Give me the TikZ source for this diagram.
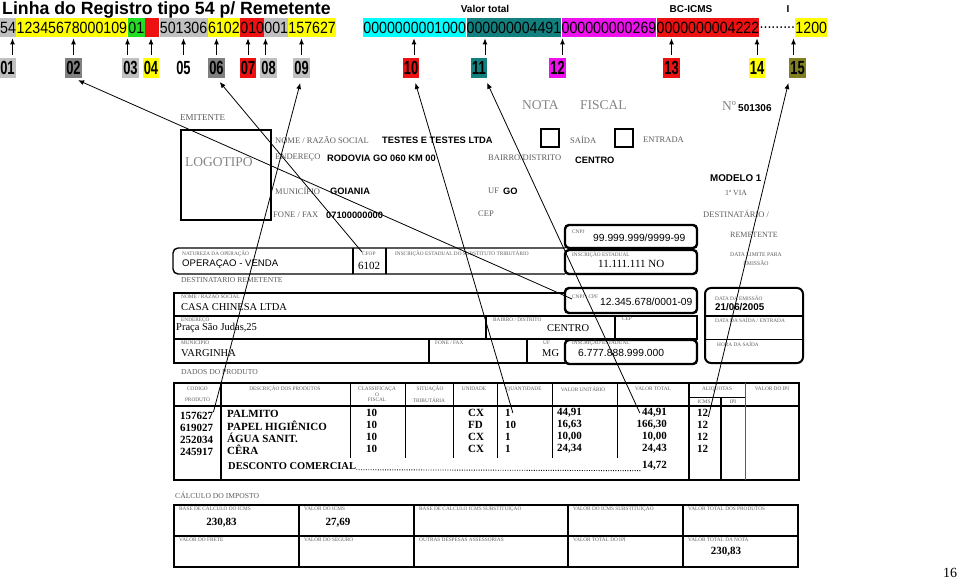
\documentclass[tikz,border=0pt]{standalone}
\usepackage{fontspec}
\setmainfont{Liberation Serif}
\newfontfamily\arialfont{Liberation Sans}
\newfontfamily\recfont[FakeStretch=0.87]{Liberation Sans}
\newfontfamily\tagfont[FakeStretch=0.68]{Liberation Sans}
\usetikzlibrary{arrows.meta,positioning}
\definecolor{SegGray}{HTML}{C0C0C0}
\definecolor{SegDark}{HTML}{808080}
\definecolor{SegYellow}{HTML}{FFFF00}
\definecolor{SegGreen}{HTML}{22DD22}
\definecolor{SegRed}{HTML}{EE1111}
\definecolor{SegCyan}{HTML}{00FFFF}
\definecolor{SegTeal}{HTML}{138080}
\definecolor{SegMagenta}{HTML}{EE11EE}
\definecolor{SegOlive}{HTML}{808022}
\definecolor{FormGray}{HTML}{5C5C5C}
\definecolor{FormLight}{HTML}{858585}
\tikzset{
  recseg/.style={inner sep=0pt, minimum height=19pt, font=\recfont\fontsize{16.3}{17}\selectfont},
  numtag/.style={inner xsep=1pt, inner ysep=0pt, minimum height=20pt,
    font=\tagfont\bfseries\fontsize{19}{20}\selectfont},
  fieldhint/.style={inner sep=0pt, font=\arialfont\bfseries\fontsize{10}{11}\selectfont},
  pick/.style={-{Latex[length=6pt,width=5pt]}, line width=0.9pt, shorten <=3pt, shorten >=1pt},
  callout/.style={-{Latex[length=6pt,width=5pt]}, line width=0.8pt, shorten >=5pt},
  formline/.style={line width=1.8pt},
  thinline/.style={line width=1pt},
  roundbox/.style={line width=2.4pt, rounded corners=4pt},
  tinylbl/.style={inner sep=0pt, anchor=west, text=FormGray, font=\fontsize{5.3}{6}\selectfont},
  tinyc/.style={inner sep=0pt, text=FormGray, font=\fontsize{5.3}{6}\selectfont},
  hdrlbl/.style={inner sep=0pt, anchor=west, text=FormGray, font=\fontsize{8.5}{9}\selectfont},
  titlelbl/.style={inner sep=0pt, anchor=west, text=FormLight, font=\fontsize{13.5}{14}\selectfont},
  hdrval/.style={inner sep=0pt, anchor=west, font=\arialfont\bfseries\fontsize{9.3}{10}\selectfont},
  sansval/.style={inner sep=0pt, anchor=west, font=\arialfont\fontsize{10.3}{11}\selectfont},
  serifval/.style={inner sep=0pt, anchor=west, font=\fontsize{10.5}{11}\selectfont},
  prodval/.style={inner sep=0pt, anchor=west, font=\bfseries\fontsize{11}{12}\selectfont},
  prodnum/.style={inner sep=0pt, anchor=east, font=\bfseries\fontsize{11}{12}\selectfont},
}

\begin{document}
\begin{tikzpicture}[x=1pt, y=-1pt]
  \useasboundingbox (0,0) rectangle (959,580);

  % record line and the numbered fields
  \node[anchor=base west, inner sep=0pt, font=\arialfont\bfseries\fontsize{17.7}{18}\selectfont]
    (title) at (2,15) {Linha do Registro tipo 54 p/ Remetente};
  \node[fieldhint] (hintTotal) at (485,9) {Valor total};
  \node[fieldhint] (hintBase) at (691,9) {BC-ICMS};
  \node[fieldhint] (hintAliq) at (788,9) {I};

  \node[recseg, fill=SegGray, minimum width=15pt, anchor=north west] (r01) at (0,18) {54};
  \node[recseg, fill=SegYellow, minimum width=111pt, right=0pt of r01] (r02) {12345678000109};
  \node[recseg, fill=SegGreen, minimum width=17pt, right=0pt of r02] (r03) {01};
  \node[recseg, fill=SegRed, minimum width=14pt, right=0pt of r03] (r04) {};
  \node[recseg, fill=SegGray, minimum width=48pt, right=0pt of r04] (r05) {501306};
  \node[recseg, fill=SegYellow, minimum width=32pt, right=0pt of r05] (r06) {6102};
  \node[recseg, fill=SegRed, minimum width=23pt, right=0pt of r06] (r07) {010};
  \node[recseg, fill=SegGray, minimum width=23pt, right=0pt of r07] (r08) {001};
  \node[recseg, fill=SegYellow, minimum width=47pt, right=0pt of r08] (r09) {157627};
  \node[recseg, fill=SegCyan, minimum width=103pt, right=27pt of r09] (r10) {0000000001000};
  \node[recseg, fill=SegTeal, minimum width=94pt, right=0pt of r10] (r11) {000000004491};
  \node[recseg, fill=SegMagenta, minimum width=94pt, right=0pt of r11] (r12) {000000000269};
  \node[recseg, fill=SegRed, minimum width=102pt, right=0pt of r12] (r13) {0000000004222};
  \node[recseg, minimum width=35pt, right=0pt of r13] (r14) {.........};
  \node[recseg, fill=SegYellow, minimum width=31pt, right=0pt of r14] (r15) {1200};

  \node[numtag, fill=SegGray] (n01) at (7.5,68) {01};
  \node[numtag, fill=SegDark] (n02) at (73.5,68) {02};
  \node[numtag, fill=SegGray] (n03) at (130.5,68) {03};
  \node[numtag, fill=SegYellow] (n04) at (151,68) {04};
  \node[numtag] (n05) at (183.5,68) {05};
  \node[numtag, fill=SegDark] (n06) at (216.5,68) {06};
  \node[numtag, fill=SegRed] (n07) at (248,68) {07};
  \node[numtag, fill=SegGray] (n08) at (268.5,68) {08};
  \node[numtag, fill=SegGray] (n09) at (301.5,68) {09};
  \node[numtag, fill=SegRed] (n10) at (411,68) {10};
  \node[numtag, fill=SegTeal] (n11) at (479,68) {11};
  \node[numtag, fill=SegMagenta] (n12) at (557.5,68) {12};
  \node[numtag, fill=SegRed] (n13) at (671.5,68) {13};
  \node[numtag, fill=SegYellow] (n14) at (757,68) {14};
  \node[numtag, fill=SegOlive] (n15) at (797.5,68) {15};

  \draw[pick] ([xshift=5pt]n01.north) -- ([xshift=5pt]n01.north |- r01.south);
  \draw[pick] (n02.north) -- (n02.north |- r02.south);
  \draw[pick] ([xshift=-3pt]n03.north) -- ([xshift=-3pt]n03.north |- r03.south);
  \draw[pick] (n04.north) -- (n04.north |- r04.south);
  \draw[pick] (n05.north) -- (n05.north |- r05.south);
  \draw[pick] (n06.north) -- (n06.north |- r06.south);
  \draw[pick] (n07.north) -- (n07.north |- r07.south);
  \draw[pick] ([xshift=-3pt]n08.north) -- ([xshift=-3pt]n08.north |- r08.south);
  \draw[pick] (n09.north) -- (n09.north |- r09.south);
  \draw[pick] ([xshift=3pt]n10.north) -- ([xshift=3pt]n10.north |- r10.south);
  \draw[pick] ([xshift=6pt]n11.north) -- ([xshift=6pt]n11.north |- r11.south);
  \draw[pick] ([xshift=5pt]n12.north) -- ([xshift=5pt]n12.north |- r12.south);
  \draw[pick] (n13.north) -- (n13.north |- r13.south);
  \draw[pick] (n14.north) -- (n14.north |- r14.south);
  \draw[pick] ([xshift=-4pt]n15.north) -- ([xshift=-4pt]n15.north |- r15.south);

  % emitente
  \node[hdrlbl, font=\fontsize{9}{10}\selectfont] (emitLbl) at (180,118) {EMITENTE};
  \draw[line width=2.6pt] (181,130) rectangle (271,220);
  \node[titlelbl] (logo) at (185,162) {LOGOTIPO};
  \node[titlelbl] (notaLbl) at (522,105) {NOTA};
  \node[titlelbl] (fiscalLbl) at (580,105) {FISCAL};
  \node[titlelbl] (numLbl) at (722,106) {Nº};
  \node[hdrval, font=\arialfont\bfseries\fontsize{10}{11}\selectfont] (numVal) at (738,108) {501306};

  \node[hdrlbl] (nomeLbl) at (275,140) {NOME / RAZÃO SOCIAL};
  \node[hdrval] (nomeVal) at (382,140) {TESTES E TESTES LTDA};
  \node[hdrlbl] (endLbl) at (275,158) {ENDEREÇO};
  \node[hdrval] (endVal) at (327,158) {RODOVIA GO 060 KM 00};
  \node[hdrlbl] (bairroLbl) at (488,158) {BAIRRO/DISTRITO};
  \node[hdrval] (bairroVal) at (575,160) {CENTRO};
  \node[hdrlbl] (munLbl) at (275,191) {MUNICÍPIO};
  \node[hdrval] (munVal) at (330,191) {GOIANIA};
  \node[hdrlbl] (ufLbl) at (488,191) {UF};
  \node[hdrval] (ufVal) at (503,191) {GO};
  \node[hdrlbl] (foneLbl) at (273,215) {FONE / FAX};
  \node[hdrval] (foneVal) at (326,215) {07100000000};
  \node[hdrlbl] (cepLbl) at (478,214) {CEP};

  \draw[line width=1.8pt] (541,129) rectangle (559,147);
  \node[hdrlbl] (saidaLbl) at (570,140) {SAÍDA};
  \draw[line width=1.8pt] (615,129) rectangle (633,147);
  \node[hdrlbl] (entradaLbl) at (643,140) {ENTRADA};
  \node[hdrval, font=\arialfont\bfseries\fontsize{9.8}{10}\selectfont] (modelo) at (710,178) {MODELO 1};
  \node[hdrlbl, font=\fontsize{7.8}{8}\selectfont] (via) at (725,193) {1ª VIA};
  \node[hdrlbl] (destLbl) at (703,214) {DESTINATÁRIO /};
  \node[hdrlbl, font=\fontsize{8}{9}\selectfont] (remLbl) at (730,235) {REMETENTE};
  \node[tinyc, font=\fontsize{5.7}{6}\selectfont] (limiteLbl) at (756,255) {DATA LIMITE PARA};
  \node[tinyc, font=\fontsize{5.7}{6}\selectfont] (emissaoLbl) at (756,263) {EMISSÃO};

  \draw[roundbox] (565,225) rectangle (697,248);
  \node[tinylbl] (cnpjEmitLbl) at (572,232) {CNPJ};
  \node[sansval] (cnpjEmit) at (593,238) {99.999.999/9999-99};
  \draw[roundbox] (565,250) rectangle (697,274);
  \node[tinylbl] (ieEmitLbl) at (572,255) {INSCRIÇÃO ESTADUAL};
  \node[serifval, font=\fontsize{11}{12}\selectfont] (ieEmit) at (598,264) {11.111.111 NO};

  \draw[line width=1.4pt, rounded corners=5pt] (565,248) -- (173,248) -- (173,274) -- (565,274);
  \draw[formline] (353,248) -- (353,274);
  \draw[formline] (386,248) -- (386,274);
  \node[tinylbl] (natLbl) at (182,254) {NATUREZA DA OPERAÇÃO};
  \node[sansval, font=\arialfont\fontsize{9.6}{10}\selectfont] (natVal) at (182,264) {OPERAÇAO - VENDA};
  \node[tinylbl] (cfopLbl) at (362,254) {CFOP};
  \node[serifval, font=\fontsize{11}{12}\selectfont] (cfopVal) at (358,266) {6102};
  \node[tinylbl] (ieStLbl) at (395,254) {INSCRIÇÃO ESTADUAL DO SUBSTITUTO TRIBUTÁRIO};

  % destinatario
  \node[hdrlbl, font=\fontsize{7.6}{8}\selectfont] (destRemLbl) at (181,280) {DESTINATARIO REMETENTE};
  \draw[formline] (565,293) -- (174,293) -- (174,363) -- (565,363);
  \draw[formline] (174,316) -- (615,316);
  \draw[formline] (174,339) -- (615,339);
  \draw[formline] (486,316) -- (486,339);
  \draw[formline] (429,339) -- (429,363);
  \draw[formline] (527,339) -- (527,363);
  \draw[line width=1.4pt] (615,316) rectangle (697,339);
  \draw[roundbox] (565,288) rectangle (697,313);
  \draw[roundbox] (565,340) rectangle (697,364);

  \node[tinylbl] (razaoLbl) at (181,296) {NOME / RAZÃO SOCIAL};
  \node[serifval] (razaoVal) at (181,307) {CASA CHINESA LTDA};
  \node[tinylbl] (cnpjCpfLbl) at (572,297) {CNPJ / CPF};
  \node[sansval] (cnpjCpf) at (600,302) {12.345.678/0001-09};
  \node[tinylbl] (endDestLbl) at (181,320) {ENDEREÇO};
  \node[serifval] (endDest) at (176,328) {Praça São Judas,25};
  \node[tinylbl] (bairroDestLbl) at (493,320) {BAIRRO / DISTRITO};
  \node[serifval] (bairroDest) at (547,328) {CENTRO};
  \node[tinylbl] (cepDestLbl) at (622,319) {CEP};
  \node[tinylbl] (munDestLbl) at (181,343) {MUNICIPIO};
  \node[serifval] (munDest) at (181,353) {VARGINHA};
  \node[tinylbl] (foneDestLbl) at (435,343) {FONE / FAX};
  \node[tinylbl] (ufDestLbl) at (543,343) {UF};
  \node[serifval] (ufDest) at (542,353) {MG};
  \node[tinylbl] (ieDestLbl) at (572,343) {INSCRIÇÃO ESTADUAL};
  \node[sansval] (ieDest) at (578,353) {6.777.888.999.000};

  \draw[line width=2pt, rounded corners=6pt] (705,288) rectangle (803,363);
  \draw[formline] (705,316) -- (803,316);
  \draw[thinline] (705,339) -- (803,339);
  \node[tinylbl] (emissaoDtLbl) at (715,298) {DATA DA EMISSÃO};
  \node[hdrval, font=\arialfont\bfseries\fontsize{9.8}{10}\selectfont] (emissaoDt) at (715,307) {21/06/2005};
  \node[tinylbl] (saidaDtLbl) at (715,320) {DATA DA SAÍDA / ENTRADA};
  \node[tinylbl] (horaLbl) at (717,344) {HORA DA SAÍDA};

  % produtos
  \node[hdrlbl, font=\fontsize{7.6}{8}\selectfont] (dadosLbl) at (181,372) {DADOS DO PRODUTO};
  \draw[formline] (174,383) rectangle (799,480);
  \draw[formline] (174,406) -- (799,406);
  \draw[formline] (221,383) -- (221,480);
  \draw[thinline] (350,383) -- (350,458);
  \draw[thinline] (405,383) -- (405,458);
  \draw[thinline] (453,383) -- (453,458);
  \draw[thinline] (497,383) -- (497,458);
  \draw[thinline] (552,383) -- (552,458);
  \draw[thinline] (617,383) -- (617,458);
  \draw[formline] (689,383) -- (689,480);
  \draw[formline] (721,397) -- (721,480);
  \draw[thinline, draw=FormGray] (745,383) -- (745,480);
  \draw[thinline] (689,397) -- (745,397);

  \node[tinyc] (codHd) at (197.5,389) {CODIGO};
  \node[tinyc] (prodHd) at (197.5,400) {PRODUTO};
  \node[tinyc] (descHd) at (285,389) {DESCRIÇÃO DOS PRODUTOS};
  \node[tinyc] (classHd) at (377,389) {CLASSIFICAÇA};
  \node[tinyc] (classHdB) at (377,394.5) {O};
  \node[tinyc] (classHdC) at (377,400) {FISCAL};
  \node[tinyc] (sitHd) at (430,389) {SITUAÇÃO};
  \node[tinyc] (sitHdB) at (429,400) {TRIBUTÁRIA};
  \node[tinyc] (unHd) at (474,389) {UNIDADE};
  \node[tinyc] (qtdHd) at (524,389) {QUANTIDADE};
  \node[tinyc] (vuHd) at (583,389) {VALOR UNITÁRIO};
  \node[tinyc] (vtHd) at (653,389) {VALOR TOTAL};
  \node[tinyc] (aliqHd) at (717,389) {ALIQUOTAS};
  \node[tinyc] (icmsHd) at (704,402) {ICMS};
  \node[tinyc] (ipiHd) at (733,402) {IPI};
  \node[tinyc] (ipiValHd) at (772,389) {VALOR DO IPI};

  \node[prodval] (cod1) at (180,416) {157627};
  \node[prodval] (cod2) at (180,428) {619027};
  \node[prodval] (cod3) at (180,440) {252034};
  \node[prodval] (cod4) at (180,452) {245917};
  \node[prodval] (nome1) at (227,414) {PALMITO};
  \node[prodval] (nome2) at (227,426) {PAPEL HIGIÊNICO};
  \node[prodval] (nome3) at (227,438) {ÁGUA SANIT.};
  \node[prodval] (nome4) at (227,450) {CÊRA};
  \node[prodval] (cls1) at (366,413) {10};
  \node[prodval] (cls2) at (366,425) {10};
  \node[prodval] (cls3) at (366,437) {10};
  \node[prodval] (cls4) at (366,449) {10};
  \node[prodval] (un1) at (468,413) {CX};
  \node[prodval] (un2) at (468,425) {FD};
  \node[prodval] (un3) at (468,437) {CX};
  \node[prodval] (un4) at (468,449) {CX};
  \node[prodval] (qtd1) at (505,413) {1};
  \node[prodval] (qtd2) at (505,425) {10};
  \node[prodval] (qtd3) at (505,437) {1};
  \node[prodval] (qtd4) at (505,449) {1};
  \node[prodval] (vu1) at (557,413) {44,91};
  \node[prodval] (vu2) at (557,425) {16,63};
  \node[prodval] (vu3) at (557,437) {10,00};
  \node[prodval] (vu4) at (557,449) {24,34};
  \node[prodnum] (vt1) at (667,413) {44,91};
  \node[prodnum] (vt2) at (667,425) {166,30};
  \node[prodnum] (vt3) at (667,437) {10,00};
  \node[prodnum] (vt4) at (667,449) {24,43};
  \node[prodval] (icms1) at (697,413) {12};
  \node[prodval] (icms2) at (697,425) {12};
  \node[prodval] (icms3) at (697,437) {12};
  \node[prodval] (icms4) at (697,449) {12};
  \node[prodval, font=\bfseries\fontsize{10.5}{11}\selectfont] (desconto) at (228,466) {DESCONTO COMERCIAL};
  \node[prodnum] (descVal) at (667,466) {14,72};
  \draw[line width=0.9pt, dash pattern=on 0.9pt off 1.5pt] (desconto.south east) -- (descVal.south west);

  % calculo do imposto
  \node[hdrlbl, font=\fontsize{7.6}{8}\selectfont] (calcLbl) at (175,495) {CÁLCULO DO IMPOSTO};
  \draw[formline] (174,505) rectangle (798,567);
  \draw[formline] (174,536) -- (798,536);
  \draw[formline] (299,505) -- (299,567);
  \draw[formline] (414,505) -- (414,567);
  \draw[formline] (568,505) -- (568,567);
  \draw[formline] (683,505) -- (683,567);
  \node[tinylbl] (baseLbl) at (179,509) {BASE DE CALCULO DO ICMS};
  \node[tinylbl] (icmsLbl) at (304,509) {VALOR DO ICMS};
  \node[tinylbl] (baseStLbl) at (419,509) {BASE DE CALCULO ICMS SUBSTITUIÇÃO};
  \node[tinylbl] (icmsStLbl) at (573,509) {VALOR DO ICMS SUBSTITUIÇÃO};
  \node[tinylbl] (totProdLbl) at (688,509) {VALOR TOTAL DOS PRODUTOS};
  \node[tinylbl] (freteLbl) at (179,540) {VALOR DO FRETE};
  \node[tinylbl] (seguroLbl) at (304,540) {VALOR DO SEGURO};
  \node[tinylbl] (outrasLbl) at (419,540) {OUTRAS DESPESAS ASSESSORIAS};
  \node[tinylbl] (ipiTotLbl) at (573,540) {VALOR TOTAL DO IPI};
  \node[tinylbl] (notaTotLbl) at (688,540) {VALOR TOTAL DA NOTA};
  \node[prodval, anchor=center] (baseVal) at (221.5,523) {230,83};
  \node[prodval, anchor=center] (icmsVal) at (338,523) {27,69};
  \node[prodval, anchor=center] (notaVal) at (726,552) {230,83};

  \node[inner sep=0pt, font=\fontsize{14}{15}\selectfont] (pageNo) at (950,573) {16};

  % form fields back to their field numbers
  \draw[callout] (cnpjCpfLbl.south west) -- (n02.south);
  \draw[callout] (cfopLbl.north west) -- (n06.south);
  \draw[callout] (cod1.north east) -- (n09.south);
  \draw[callout] ([xshift=2pt]qtd1.east) -- ([xshift=3pt]n10.south);
  \draw[callout] ([xshift=-2pt]vt1.west) -- ([xshift=6pt]n11.south);
  \draw[callout] (icms1.south east) -- ([xshift=-8pt]n15.south);
\end{tikzpicture}
\end{document}
